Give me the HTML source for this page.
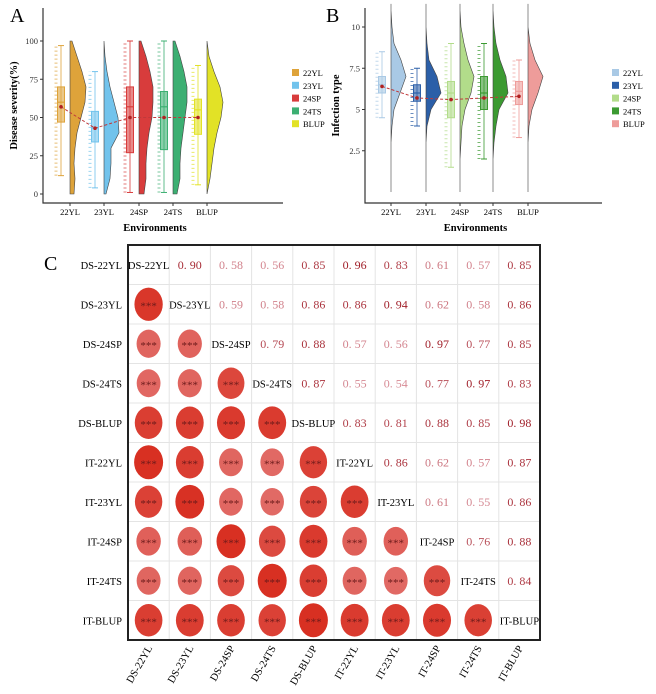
<!DOCTYPE html>
<html><head><meta charset="utf-8">
<style>
html,body{margin:0;padding:0;background:#fff;}
svg{display:block;font-family:"Liberation Serif",serif;}
</style></head>
<body>
<svg id="fig" width="656" height="694" viewBox="0 0 656 694">
<g id="pa"></g>
<g id="pb"></g>
<g id="pc"></g>
</svg>
<script>
const envs = ["22YL","23YL","24SP","24TS","BLUP"];
// Panel A: disease severity
const aMeans = [57,43,50,50,50];
const aQ1 = [47,34,27,29,39];
const aMed = [60,43,57,57,55];
const aQ3 = [70,54,70,67,62];
const aLo = [12,4,1,1,6];
const aHi = [97,80,100,100,84];
const aDensity = [ // widths at 0,10,...,100
 [4,5,4,5,7,11,15,16,12,7,2],
 [2,6,7,7,15,14,10,6,3,1,0],
 [5,7,7,8,10,13,14,14,11,7,2],
 [4,7,7,8,10,12,14,14,11,7,2],
 [0,3,5,7,10,14,16,13,7,2,0]];
const aTicks = [0,25,50,75,100];
// Panel B: infection type
const bMeans = [6.4,5.7,5.6,5.7,5.8];
const bQ1 = [6,5.5,4.5,5,5.3];
const bMed = [6.5,6,6,6,6.1];
const bQ3 = [7,6.5,6.7,7,6.7];
const bLo = [4.5,4,1.5,2,3.3];
const bHi = [8.5,7.5,9,9,8];
const bDensity = [ // widths at 0,1,...,11
 [0,0,0,0,1,3,9,15,10,3,1,0],
 [0,0,0,0,1,5,15,11,3,1,0,0],
 [0,0,0,1,2,5,11,14,8,4,1,0],
 [0,0,0,1,3,6,15,13,7,3,1,0],
 [0,0,0,0,1,4,10,15,7,2,0,0]];
const bTicks = [2.5,5,7.5,10];
// Panel C: correlations
const cLabels = ["DS-22YL","DS-23YL","DS-24SP","DS-24TS","DS-BLUP","IT-22YL","IT-23YL","IT-24SP","IT-24TS","IT-BLUP"];
const cUpper = [
 [0.90,0.58,0.56,0.85,0.96,0.83,0.61,0.57,0.85],
 [0.59,0.58,0.86,0.86,0.94,0.62,0.58,0.86],
 [0.79,0.88,0.57,0.56,0.97,0.77,0.85],
 [0.87,0.55,0.54,0.77,0.97,0.83],
 [0.83,0.81,0.88,0.85,0.98],
 [0.86,0.62,0.57,0.87],
 [0.61,0.55,0.86],
 [0.76,0.88],
 [0.84]];

const NS="http://www.w3.org/2000/svg";
function mk(parent,tag,attrs,text){const e=document.createElementNS(NS,tag);for(const k in attrs)e.setAttribute(k,attrs[k]);if(text!==undefined)e.textContent=text;parent.appendChild(e);return e;}

function panel(g,cfg){
  const {x0,x1,yAxisBot,yfn,cx,colors,ticks,fmt,means,q1,med,q3,lo,hi,dens,step,letter,letterX,ylabel,legX,full}=cfg;
  let t=mk(g,"text",{x:letterX,y:22,"font-size":20},letter);
  
  let ax=mk(g,"path",{d:`M${x0},8V${yAxisBot}H${x1}`,stroke:"#333",fill:"none","stroke-width":1.2});
  
  ticks.forEach(v=>{const y=yfn(v);mk(g,"line",{x1:x0-3,x2:x0,y1:y,y2:y,stroke:"#333"});
    let tl=mk(g,"text",{x:x0-5,y:y+3,"font-size":8.5,"text-anchor":"end",fill:"#333"},fmt(v));
    });
  let yl=mk(g,"text",{transform:`translate(${x0-26},${(8+yAxisBot)/2}) rotate(-90)`,"font-size":10.5,"font-weight":"bold","text-anchor":"middle"},ylabel);
  
  let xl=mk(g,"text",{x:(x0+x1)/2-8,y:231,"font-size":10.5,"font-weight":"bold","text-anchor":"middle"},"Environments");
  
  envs.forEach((e,i)=>{
    const c=cx[i],col=colors[i];
    mk(g,"line",{x1:c,x2:c,y1:yAxisBot,y2:yAxisBot+3,stroke:"#333"});
    let lab=mk(g,"text",{x:c,y:yAxisBot+12,"font-size":8.5,"text-anchor":"middle"},e);
    
    const d=dens[i];let p=`M${c},${yfn(0)}`;
    if(full) p=`M${c},${yfn(full[1])}L${c},${yfn(0)}`;
    for(let k=0;k<d.length;k++)p+=`L${c+d[k]},${yfn(k*step)}`;
    p+=`L${c},${yfn((d.length-1)*step)}Z`;
    let v=mk(g,"path",{d:p,fill:col,stroke:"#444","stroke-width":0.6});
    
    mk(g,"line",{x1:c-14,x2:c-14,y1:yfn(lo[i]),y2:yfn(hi[i]),stroke:col,"stroke-width":3,"stroke-dasharray":"1 3",opacity:0.7});
    const bx=c-9;
    mk(g,"line",{x1:bx,x2:bx,y1:yfn(lo[i]),y2:yfn(hi[i]),stroke:col,"stroke-width":1,opacity:0.8});
    mk(g,"line",{x1:bx-3,x2:bx+3,y1:yfn(lo[i]),y2:yfn(lo[i]),stroke:col});
    mk(g,"line",{x1:bx-3,x2:bx+3,y1:yfn(hi[i]),y2:yfn(hi[i]),stroke:col});
    let b=mk(g,"rect",{x:bx-3.5,y:yfn(q3[i]),width:7,height:yfn(q1[i])-yfn(q3[i]),fill:col,"fill-opacity":0.6,stroke:col});
    
    mk(g,"line",{x1:bx-3.5,x2:bx+3.5,y1:yfn(med[i]),y2:yfn(med[i]),stroke:col,"stroke-width":1.2});
  });
  let mp="";means.forEach((m,i)=>{mp+=(i?"L":"M")+(cx[i]-9)+","+yfn(m);});
  let ml=mk(g,"path",{d:mp,stroke:"#c0393b","stroke-dasharray":"3 2",fill:"none","stroke-width":1});
  
  means.forEach((m,i)=>{let pt=mk(g,"circle",{cx:cx[i]-9,cy:yfn(m),r:1.8,fill:"#b02020"});
    });
  envs.forEach((e,i)=>{const y=73+i*12.8;
    let r=mk(g,"rect",{x:legX,y:y-4,width:7,height:7,fill:colors[i]});
    
    let lt=mk(g,"text",{x:legX+11,y:y+3,"font-size":8.5},e);
    });
}
panel(document.getElementById("pa"),{x0:43,x1:283,yAxisBot:203,yfn:v=>194-v*1.53,cx:[70,104,139,173,207],
 colors:["#dea33a","#72c3ec","#d83c3c","#3caf72","#e2e226"],ticks:aTicks,fmt:v=>String(v),
 means:aMeans,q1:aQ1,med:aMed,q3:aQ3,lo:aLo,hi:aHi,dens:aDensity,step:10,letter:"A",letterX:10,
 ylabel:"Disease severity(%)",legX:292});
panel(document.getElementById("pb"),{x0:365,x1:602,yAxisBot:203,yfn:v=>192-v*16.5,cx:[391,426,460,493,528],
 colors:["#a9c9e5","#2b5fa8","#b2dc8a","#3b9a31","#ee9c9a"],ticks:bTicks,fmt:v=>String(v),
 means:bMeans,q1:bQ1,med:bMed,q3:bQ3,lo:bLo,hi:bHi,dens:bDensity,step:1,letter:"B",letterX:326,
 ylabel:"Infection type",legX:612,full:[0,11.4]});

(function(){
  const g=document.getElementById("pc");
  const L=128,T=245,cw=41.2,rh=39.5,n=cLabels.length;
  let t=mk(g,"text",{x:44,y:270,"font-size":20},"C");
  
  for(let i=1;i<n;i++){
    mk(g,"line",{x1:L+i*cw,x2:L+i*cw,y1:T,y2:T+n*rh,stroke:"#e4e4e4"});
    mk(g,"line",{x1:L,x2:L+n*cw,y1:T+i*rh,y2:T+i*rh,stroke:"#e4e4e4"});
  }
  let fr=mk(g,"rect",{x:L,y:T,width:n*cw,height:n*rh,fill:"none",stroke:"#222","stroke-width":2});
  
  function corr(i,j){return i<j?cUpper[i][j-i-1]:cUpper[j][i-j-1];}
  function frac(v){return Math.max(0,Math.min(1,(v-0.5)/0.45));}
  function col(v){const f=frac(v);
    const a=[226,112,108],b=[216,48,34];return `rgb(${a.map((x,k)=>Math.round(x+(b[k]-x)*f)).join(",")})`;}
  function tcol(v){const f=frac(v);
    const a=[220,150,160],b=[160,30,40];return `rgb(${a.map((x,k)=>Math.round(x+(b[k]-x)*f)).join(",")})`;}
  for(let i=0;i<n;i++){
    const cy=T+(i+0.5)*rh;
    let rl=mk(g,"text",{x:L-6,y:cy+4,"font-size":10.5,"text-anchor":"end"},cLabels[i]);
    
    const bxp=L+(i+0.5)*cw;
    let cl=mk(g,"text",{transform:`translate(${bxp+4},${T+n*rh+8}) rotate(-60)`,"font-size":10.5,"text-anchor":"end"},cLabels[i]);
    
    for(let j=0;j<n;j++){
      const cx=L+(j+0.5)*cw;
      if(i===j){let d=mk(g,"text",{x:cx,y:cy+4,"font-size":10.5,"text-anchor":"middle"},cLabels[i]);
        }
      else if(j>i){const v=corr(i,j);
        let tv=mk(g,"text",{x:cx,y:cy+4,"font-size":12,"text-anchor":"middle",fill:tcol(v)},v.toFixed(2).replace(".",". "));
        }
      else{const v=corr(i,j);const f=frac(v);
        let c=mk(g,"ellipse",{cx:cx,cy:cy,rx:11.5+3*f,ry:13.5+3.5*f,fill:col(v)});
        
        let st=mk(g,"text",{x:cx,y:cy+5,"font-size":11,"text-anchor":"middle",fill:"#6a1a1a"},"***");
        }
    }
  }
})();
</script>
</body></html>
